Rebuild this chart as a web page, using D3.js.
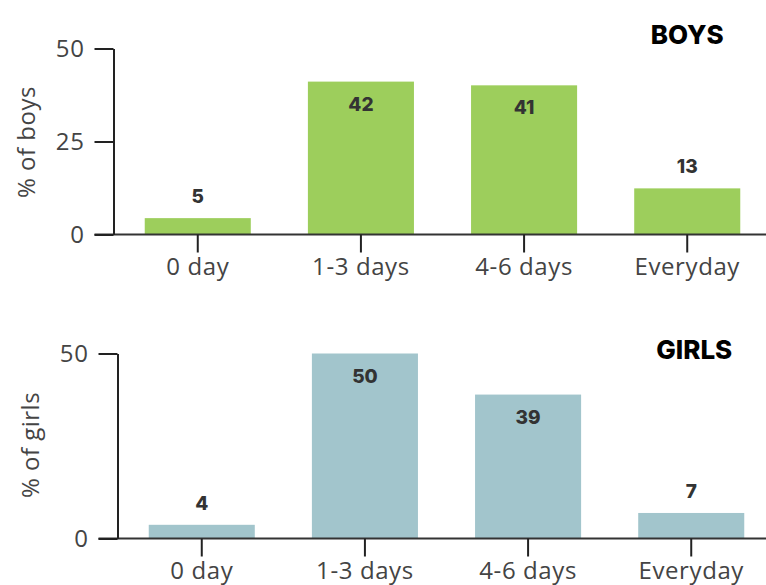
<!DOCTYPE html>
<html>
<head>
<meta charset="utf-8">
<script src="https://cdn.jsdelivr.net/npm/d3@7"></script>
<style>
    body { margin: 0; background: #fff; }
    svg { font-family: "Open Sans", "DejaVu Sans", sans-serif; }
    .tick text { fill: #444; font-size: 24px; letter-spacing: 0.6px; font-family: "Open Sans", sans-serif; }
    .tick line { stroke: #222; stroke-width: 2; }
    .domain { stroke: #222; stroke-width: 2; }
    .val { font-family: Inter, "Open Sans", sans-serif; font-weight: 800; font-size: 19px; fill: #333; }
    .title { font-family: Inter, "Open Sans", sans-serif; font-weight: 800; font-size: 26px; fill: #000; }
    .ylab { fill: #444; font-size: 24px; letter-spacing: 0.5px; font-family: "Open Sans", sans-serif; }
</style>
</head>
<body>
<div id="chart"></div>
<script>
    // data
    var categories = ["0 day", "1-3 days", "4-6 days", "Everyday"];
    var boysValues = [4.4, 41.1, 40.1, 12.4];
    var boysLabels = ["5", "42", "41", "13"];
    var girlsValues = [3.7, 50, 38.9, 6.9];
    var girlsLabels = ["4", "50", "39", "7"];
    var boysTicks = [0, 25, 50];
    var girlsTicks = [0, 50];

    var width = 766, height = 585;

    var svg = d3.select("#chart").append("svg")
        .attr("width", width)
        .attr("height", height);

    // one panel per group
    function drawPanel(opt) {
        var x = d3.scaleBand()
            .domain(categories)
            .range([opt.x0, opt.x0 + 651])
            .paddingInner(0.35)
            .paddingOuter(0.17);

        var y = d3.scaleLinear()
            .domain([0, 50])
            .range([opt.yBottom, opt.yTop]);

        var g = svg.append("g");

        // bars
        g.selectAll("rect")
            .data(opt.values)
            .enter().append("rect")
            .attr("x", function(d, i) { return x(categories[i]); })
            .attr("y", function(d) { return y(d); })
            .attr("width", x.bandwidth())
            .attr("height", function(d) { return y(0) - y(d); })
            .attr("fill", opt.color);

        // baseline running to the right edge
        g.append("line")
            .attr("x1", opt.axisX - 19).attr("x2", width)
            .attr("y1", y(0)).attr("y2", y(0))
            .attr("stroke", "#333").attr("stroke-width", 2);

        // y axis
        g.append("g")
            .attr("transform", "translate(" + opt.axisX + ",0)")
            .call(d3.axisLeft(y).tickValues(opt.ticks).tickSize(19).tickSizeOuter(0).tickPadding(10))
            .call(function(a) { a.selectAll(".tick line").attr("stroke", "#222"); });

        // x axis
        g.append("g")
            .attr("transform", "translate(0," + y(0) + ")")
            .call(d3.axisBottom(x).tickSize(18).tickSizeOuter(0).tickPadding(5))
            .call(function(a) { a.select(".domain").remove(); });

        // value labels
        g.selectAll(".val")
            .data(opt.values)
            .enter().append("text")
            .attr("class", "val")
            .attr("text-anchor", "middle")
            .attr("x", function(d, i) { return x(categories[i]) + x.bandwidth() / 2; })
            .attr("y", function(d) { return d > 25 ? y(d) + 29 : y(d) - 15; })
            .text(function(d, i) { return opt.labels[i]; });

        // panel title
        g.append("text")
            .attr("class", "title")
            .attr("text-anchor", "middle")
            .attr("x", x("Everyday") + x.bandwidth() / 2 + opt.titleDx)
            .attr("y", opt.titleY)
            .text(opt.title);

        // y label
        g.append("text")
            .attr("class", "ylab")
            .attr("text-anchor", "middle")
            .attr("transform", "translate(" + opt.labX + "," + opt.labY + ") rotate(-90)")
            .text(opt.yLabel);
    }

    drawPanel({
        values: boysValues, labels: boysLabels, ticks: boysTicks,
        color: "#9dce5c", x0: 117, axisX: 113.5, yTop: 48.5, yBottom: 234.5,
        title: "BOYS", titleY: 44, titleDx: 0,
        yLabel: "% of boys", labX: 35, labY: 142
    });

    drawPanel({
        values: girlsValues, labels: girlsLabels, ticks: girlsTicks,
        color: "#a2c5cc", x0: 121, axisX: 117.5, yTop: 353.5, yBottom: 538.5,
        title: "GIRLS", titleY: 359, titleDx: 3,
        yLabel: "% of girls", labX: 39, labY: 445
    });
</script>
</body>
</html>
